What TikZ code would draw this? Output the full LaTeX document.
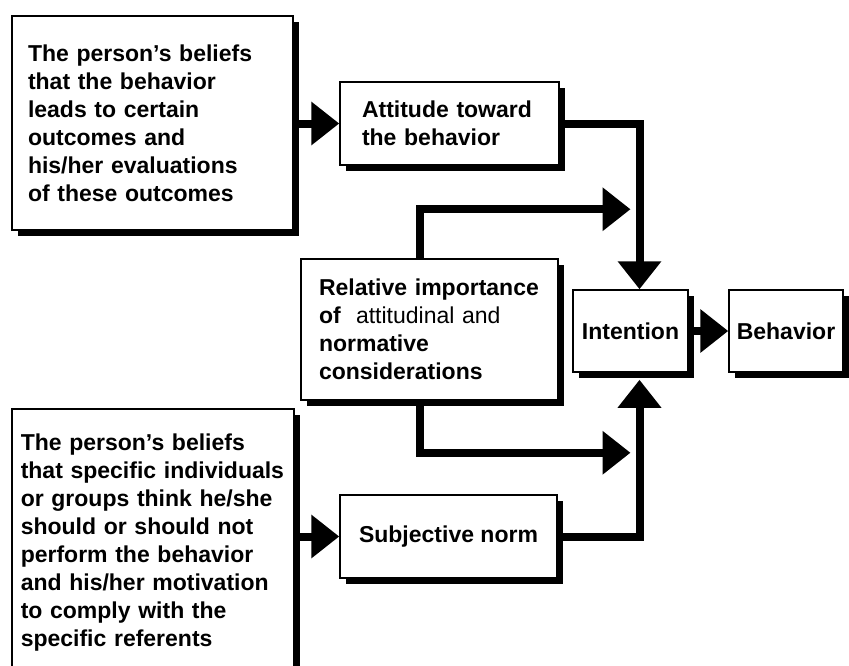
\documentclass[tikz,border=0pt]{standalone}
\usepackage{fontspec}
\setmainfont{Liberation Sans}
\usetikzlibrary{arrows.meta}
\usetikzlibrary{shadows}
\tikzstyle{factor}=[draw, line width=1.5pt, fill=white, inner ysep=0pt,
  font=\bfseries\fontsize{23}{28}\selectfont,
  drop shadow={shadow xshift=6pt, shadow yshift=-6pt, fill=black, opacity=1}]
\tikzstyle{flow}=[line width=8pt, -{Triangle[length=28pt, width=42pt]}]

\begin{document}
\begin{tikzpicture}[x=1pt, y=-1pt]
      \useasboundingbox (0, 0) rectangle (849, 665);
      \clip (0, 0) rectangle (849, 665);
      \node[factor, align=left, text width=249pt, inner xsep=16pt, minimum height=214pt] (beliefs_a) at (152.5, 123)
        {The person’s beliefs\\ that the behavior\\ leads to certain\\ outcomes and\\ his/her evaluations\\ of these outcomes};
      \node[factor, align=left, text width=175pt, inner xsep=22pt, minimum height=83pt] (attitude) at (449.5, 123.5)
        {Attitude toward\\ the behavior};
      \node[factor, align=left, text width=221pt, inner xsep=18pt, minimum height=141pt] (importance) at (429.5, 329.5)
        {Relative importance\\ of \ {\mdseries attitudinal and}\\ normative\\ considerations};
      \node[factor, align=center, minimum width=115pt, minimum height=82pt] (intention) at (630.5, 331) {Intention};
      \node[factor, align=center, minimum width=114pt, minimum height=82pt] (behavior) at (786, 331) {Behavior};
      \node[factor, align=center, minimum width=217pt, minimum height=83pt] (norm) at (448.5, 536.5) {Subjective norm};
      \node[factor, align=left, anchor=north west, text width=264pt, inner xsep=9pt, inner ysep=25pt] (beliefs_b) at (11, 408)
        {The person’s beliefs\\ that specific individuals\\ or groups think he/she\\ should or should not\\ perform the behavior\\ and his/her motivation\\ to comply with the\\ specific referents\rule[-90pt]{0pt}{0pt}};
      \draw[flow] (beliefs_a.east |- attitude) -- (attitude.west);
      \draw[flow] (attitude.east) -| ([xshift=9pt]intention.north);
      \draw[flow] ([xshift=-10pt]importance.north) |- ([yshift=80pt]intention.north);
      \draw[flow] ([xshift=-10pt]importance.south) |- ([yshift=-80pt]intention.south);
      \draw[flow, shorten >=7pt] (norm.east) -| ([xshift=9pt]intention.south);
      \draw[flow] (beliefs_b.east |- norm) -- (norm.west);
      \draw[flow] (intention.east) -- (behavior.west);
    \end{tikzpicture}
\end{document}
